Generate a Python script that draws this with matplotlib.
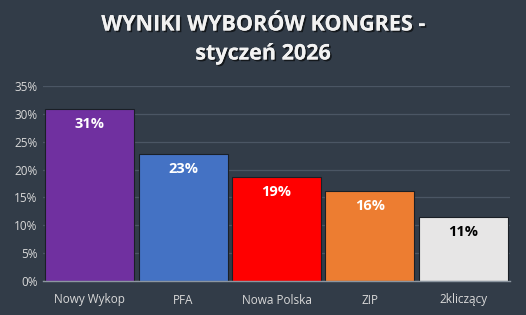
import matplotlib
matplotlib.use("Agg")
import matplotlib.pyplot as plt
import matplotlib.patheffects as pe
from matplotlib.ticker import FuncFormatter, MultipleLocator

categories = ["Nowy Wykop", "PFA", "Nowa Polska", "ZIP", "2kliczący"]
values = [30.8, 22.8, 18.7, 16.2, 11.4]
labels = ["31%", "23%", "19%", "16%", "11%"]
colors = ["#7030A0", "#4472C4", "#FF0000", "#ED7D31", "#E7E6E6"]
label_colors = ["white", "white", "white", "white", "black"]
title_lines = ["WYNIKI WYBORÓW KONGRES -", "styczeń 2026"]

bg = "#323C48"
plt.rcParams['font.family'] = ['Open Sans', 'DejaVu Sans']

fig = plt.figure(figsize=(5.26, 3.15), dpi=100, facecolor=bg)
ax = fig.add_axes([43/526, 1 - 281/315, (510-43)/526, (281-86)/315])
ax.set_facecolor(bg)

x = list(range(len(categories)))
ax.bar(x, values, width=0.955, color=colors, edgecolor="#1a1f26", linewidth=0.8, zorder=3)
for xi, v, lab, lc in zip(x, values, labels, label_colors):
    ax.annotate(lab, (xi, v), xytext=(0, -15), textcoords="offset pixels",
                ha="center", va="center", fontsize=10.5, fontweight="bold", color=lc, zorder=4)

ax.set_xlim(-0.5, 4.5)
ax.set_ylim(0, 35)
ax.yaxis.set_major_locator(MultipleLocator(5))
ax.yaxis.set_major_formatter(FuncFormatter(lambda v, p: f"{int(v)}%"))
ax.grid(axis="y", color="#4B5664", linewidth=0.9, zorder=0)
ax.set_xticks(x)
ax.set_xticklabels(categories)
ax.tick_params(axis="both", length=0, colors="#D9D9D9", labelsize=8.5)
ax.tick_params(axis="x", pad=9)
ax.tick_params(axis="y", pad=4)
for s in ["top", "right", "left"]:
    ax.spines[s].set_visible(False)
ax.spines["bottom"].set_color("#8C96A0")
ax.spines["bottom"].set_linewidth(1.0)
ax.spines["bottom"].set_zorder(5)

shadow = [pe.withSimplePatchShadow(offset=(1.2, -1.2), shadow_rgbFace="black", alpha=0.6), pe.Normal()]
for line, yc in zip(title_lines, [25, 54]):
    fig.text(0.5, 1 - yc/315, line, ha="center", va="center", fontsize=15.5,
             fontweight="bold", color="#F2F2F2", path_effects=shadow)

fig.savefig("out.png", dpi=100, facecolor=bg)
